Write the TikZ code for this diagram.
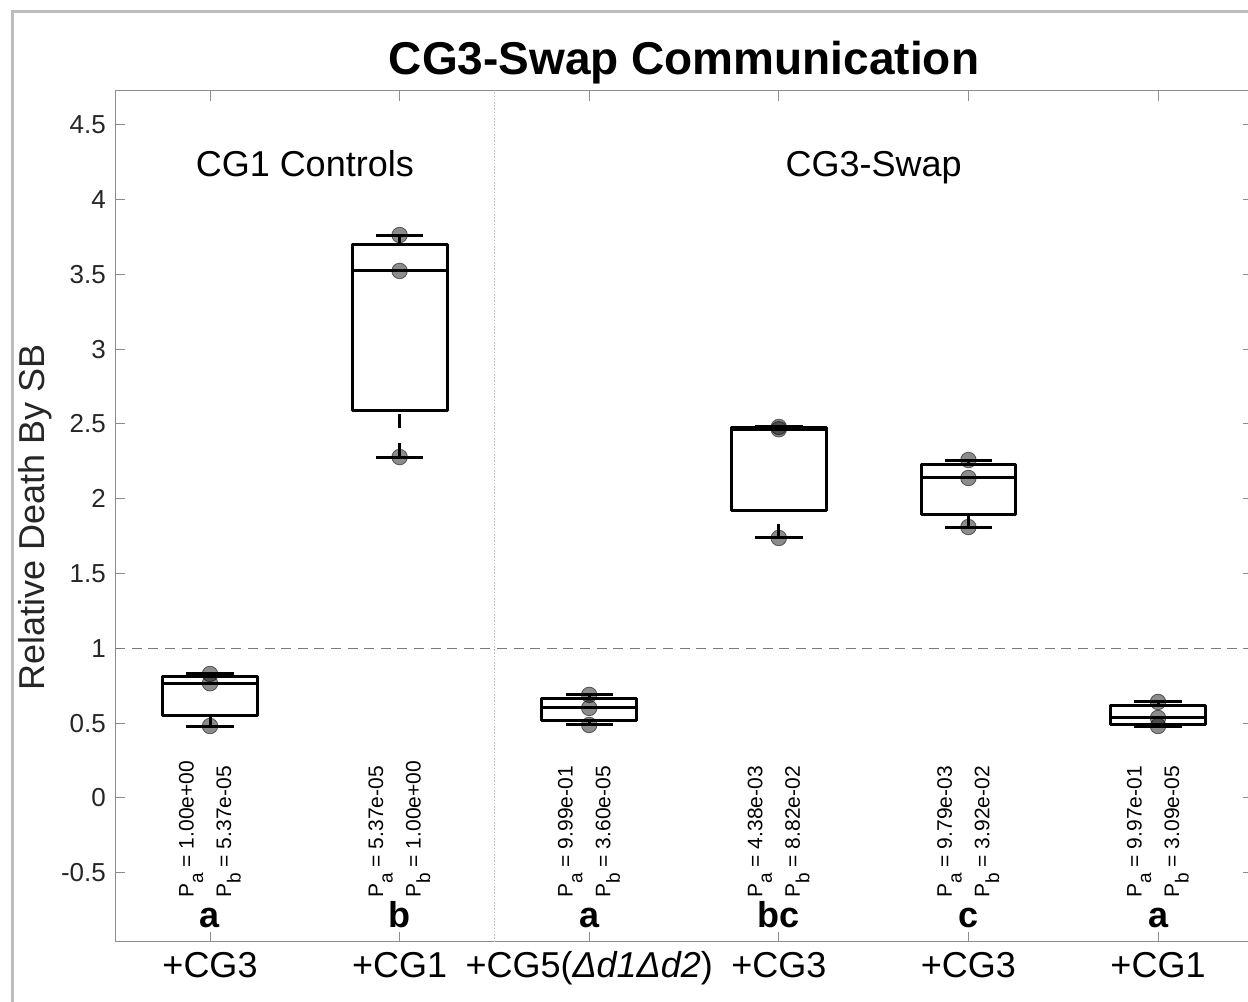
\documentclass[tikz,border=0pt]{standalone}
\usepackage{fontspec}
\setmainfont{Liberation Sans}
\usetikzlibrary{positioning}
\definecolor{mframe}{HTML}{BDBDBD}
\definecolor{maxis}{HTML}{8C8C8C}
\definecolor{mtext}{HTML}{262626}
\definecolor{mref}{HTML}{7A7A7A}
\definecolor{msplit}{HTML}{C4C4C4}
\tikzset{
  boxln/.style={line width=1.5pt, line join=round},
  whisk/.style={line width=1.5pt, dash pattern=on 7pt off 7.5pt},
  dotpt/.style={circle, draw=black, draw opacity=0.55, fill=black, fill opacity=0.45,
                line width=0.4pt, minimum size=7.8pt, inner sep=0pt},
  ticklbl/.style={font=\fontsize{13}{13}\selectfont, text=mtext, inner sep=0pt},
  grplbl/.style={font=\fontsize{18}{18}\selectfont, anchor=base},
  catlbl/.style={font=\fontsize{18}{18}\selectfont, anchor=base},
  sigltr/.style={font=\fontsize{18}{18}\selectfont\bfseries, anchor=base},
  pval/.style={rotate=90, anchor=base west, inner sep=0pt,
               font=\fontsize{10.5}{10.5}\selectfont},
}
\newcommand{\pvsub}[1]{\raisebox{-4.8pt}{\fontsize{9.5}{9.5}\selectfont #1}}

\begin{document}
\begin{tikzpicture}[x=94.8pt, y=74.8pt]
  \useasboundingbox (-0.1076,-1.3636) rectangle (6.4747,5.3342);
  % figure frame
  \draw[mframe, line width=1.5pt] (-0.0443,5.259) rectangle (7,-2);

  % axes, ticks, guide lines
  \draw[maxis, line width=0.5pt] (0.5,-0.9626) rectangle (6.5,4.726);
  \foreach \v [count=\i] in {-0.5,0,0.5,1,1.5,2,2.5,3,3.5,4,4.5} {
    \draw[maxis, line width=0.5pt] (0.5,\v) -- ++(5pt,0);
    \draw[maxis, line width=0.5pt] (6.5,\v) -- ++(-5pt,0);
    \node[ticklbl, anchor=east] (yt\i) at ([xshift=-4.5pt]0.5,\v) {\v};
  }
  \foreach \k in {1,...,6} {
    \draw[maxis, line width=0.5pt] (\k,-0.9626) -- ++(0,5pt);
    \draw[maxis, line width=0.5pt] (\k,4.726) -- ++(0,-5pt);
  }
  \draw[mref, line width=0.5pt, dash pattern=on 5pt off 3.3pt] (0.5,1) -- (6.5,1);
  \draw[msplit, line width=0.5pt, dash pattern=on 0.8pt off 0.8pt] (2.5,-0.9626) -- (2.5,4.726);

  % titles
  \node[font=\fontsize{23}{23}\selectfont\bfseries, anchor=base] (title) at (3.5,4.833) {CG3-Swap Communication};
  \node[rotate=90, anchor=base, text=mtext, font=\fontsize{18}{18}\selectfont] (ylab) at (0.1245,1.878) {Relative Death By SB};
  \node[grplbl] (grp1) at (1.5,4.151) {CG1 Controls};
  \node[grplbl] (grp2) at (4.5,4.151) {CG3-Swap};

  % boxes from three sorted values each
  \foreach \x/\a/\b/\c in {1/0.481/0.767/0.829, 2/2.279/3.523/3.763, 3/0.488/0.602/0.689,
                           4/1.738/2.465/2.480, 5/1.811/2.139/2.259, 6/0.481/0.535/0.642} {
    \pgfmathsetmacro\qlo{\a+0.25*(\b-\a)}
    \pgfmathsetmacro\qhi{\b+0.75*(\c-\b)}
    \draw[whisk] (\x,\a) -- (\x,\qlo);
    \draw[whisk] (\x,\c) -- (\x,\qhi);
    \draw[boxln] (\x-0.125,\a) -- (\x+0.125,\a);
    \draw[boxln] (\x-0.125,\c) -- (\x+0.125,\c);
    \draw[boxln] (\x-0.25,\qlo) rectangle (\x+0.25,\qhi);
    \draw[boxln] (\x-0.25,\b) -- (\x+0.25,\b);
    \node[dotpt] (da\x) at (\x,\a) {};
    \node[dotpt] (db\x) at (\x,\b) {};
    \node[dotpt] (dc\x) at (\x,\c) {};
  }

  % p-values, letters and group names
  \foreach \k/\pa/\pb/\sig/\cat in {1/1.00e+00/5.37e-05/a/+CG3, 2/5.37e-05/1.00e+00/b/+CG1,
      3/9.99e-01/3.60e-05/a/{+CG5(\textit{Δd1Δd2})}, 4/4.38e-03/8.82e-02/bc/+CG3,
      5/9.79e-03/3.92e-02/c/+CG3, 6/9.97e-01/3.09e-05/a/+CG1} {
    \node[pval] (pa\k) at (\k-0.087,-0.668) {P\pvsub{a} = \pa};
    \node[pval] (pb\k) at (\k+0.111,-0.668) {P\pvsub{b} = \pb};
    \node[sigltr] (sig\k) at (\k,-0.869) {\sig};
    \node[catlbl] (cat\k) at (\k,-1.203) {\cat};
  }
\end{tikzpicture}
\end{document}
